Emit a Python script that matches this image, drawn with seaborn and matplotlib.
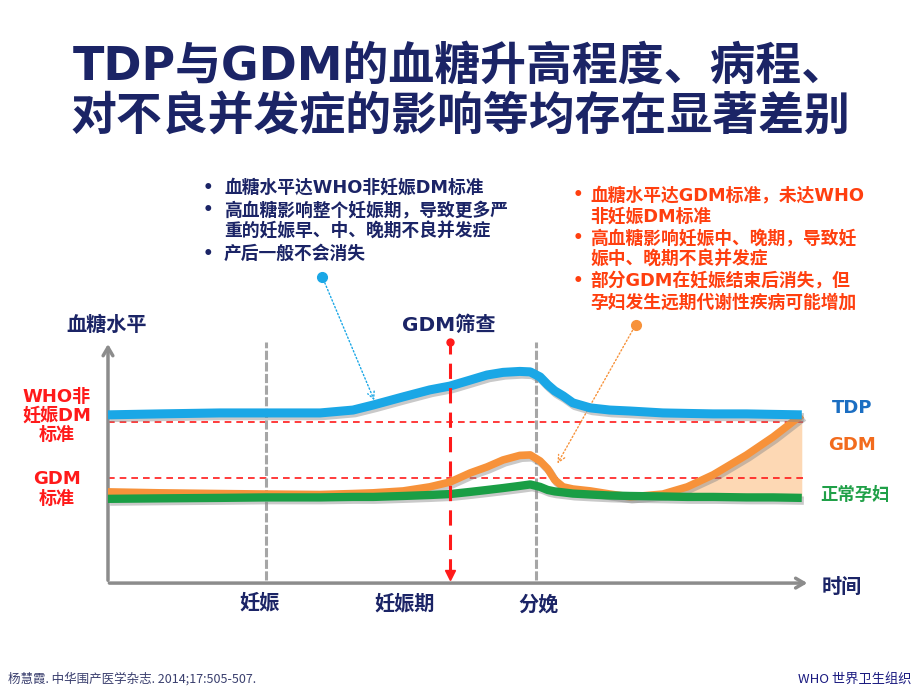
import numpy as np
import pandas as pd
import matplotlib
matplotlib.use('Agg')
import matplotlib.pyplot as plt
import matplotlib.patheffects as pe
import seaborn as sns

# time axis (arbitrary units, 0 = start, 100 = end of arrow)
t = [0.0, 7.4, 16.0, 22.6, 30.4, 35.1, 38.0, 42.3, 46.1, 49.0, 51.9, 54.3, 56.6, 59.0,
     60.5, 61.9, 63.0, 64.0, 65.2, 66.6, 69.1, 71.9, 74.8, 79.5, 83.0, 86.7, 91.5, 95.3, 99.4]
# blood glucose level (arbitrary units)
tdp = [68.8, 69.2, 69.6, 69.6, 69.6, 70.8, 72.9, 76.3, 79.2, 80.8, 83.3, 85.4, 86.5, 86.9,
       86.7, 84.6, 81.3, 78.8, 76.7, 73.8, 71.7, 70.8, 70.4, 69.6, 69.4, 69.2, 69.2, 69.0, 68.8]
gdm = [36.7, 36.3, 36.0, 35.8, 35.6, 36.0, 36.3, 37.1, 38.8, 40.8, 44.6, 47.1, 50.0, 51.9,
       52.1, 49.6, 46.3, 41.7, 38.8, 37.9, 37.1, 35.8, 34.6, 35.8, 38.8, 43.8, 52.1, 59.6, 68.8]
normal = [33.8, 34.0, 34.2, 34.4, 34.4, 34.6, 34.6, 35.0, 35.4, 35.8, 36.7, 37.5, 38.3, 39.2,
          39.8, 38.8, 37.5, 36.9, 36.5, 36.0, 35.6, 35.2, 35.0, 34.8, 34.6, 34.6, 34.4, 34.4, 34.2]

who_level = 65.8      # WHO non-pregnancy DM standard
gdm_level = 42.5      # GDM standard
t_preg = 22.6         # 妊娠
t_screen = 49.0       # GDM筛查
t_birth = 61.3        # 分娩

title_lines = ['TDP与GDM的血糖升高程度、病程、', '对不良并发症的影响等均存在显著差别']
blue_notes = ['血糖水平达WHO非妊娠DM标准', '高血糖影响整个妊娠期，导致更多严',
              '重的妊娠早、中、晚期不良并发症', '产后一般不会消失']
blue_bullets = [True, True, False, True]
red_notes = ['血糖水平达GDM标准，未达WHO', '非妊娠DM标准', '高血糖影响妊娠中、晚期，导致妊',
             '娠中、晚期不良并发症', '部分GDM在妊娠结束后消失，但', '孕妇发生远期代谢性疾病可能增加']
red_bullets = [True, False, True, False, True, False]

navy = '#1B2466'
c_tdp = '#1AA7E6'
c_gdm = '#F7923A'
c_norm = '#1A9E45'
c_red = '#FF1A1A'
c_note = '#FF3F0F'

sns.set_style('white')
plt.rcParams['font.family'] = ['DejaVu Sans', 'Noto Sans CJK SC']
plt.rcParams['font.weight'] = 'bold'

fig = plt.figure(figsize=(9.2, 6.9), dpi=100)
ax = fig.add_axes([0.106, 0.1386, 0.8004, 0.3826])
ax.set_xlim(-1.5, 104)
ax.set_ylim(-6, 104)
ax.axis('off')

df = pd.DataFrame({'t': t, 'TDP': tdp, 'GDM': gdm, 'normal': normal})

# shaded area between GDM and normal after delivery
late = df['t'] >= 72
ax.fill_between(df['t'][late], df['normal'][late], df['GDM'][late],
                where=(df['GDM'][late] >= df['normal'][late]), interpolate=True,
                color='#FDD8B4', lw=0, zorder=1)

# thresholds
for lvl in [who_level, gdm_level]:
    ax.plot([0, 100], [lvl, lvl], color=c_red, lw=1.2, ls=(0, (4, 3)), zorder=2)

# vertical markers
for tv in [t_preg, t_birth]:
    ax.plot([tv, tv], [0, 99], color='#A6A6A6', lw=2.2, ls=(0, (3, 0.8)), zorder=2)

shadow = [pe.SimpleLineShadow(offset=(1.5, -2), shadow_color='#888888', alpha=0.45), pe.Normal()]
for col, c, lw in [('GDM', c_gdm, 5.5), ('normal', c_norm, 6), ('TDP', c_tdp, 6.5)]:
    sns.lineplot(data=df, x='t', y=col, ax=ax, color=c, linewidth=lw, sort=False,
                 solid_capstyle='butt', path_effects=shadow, zorder=4)
ax.set_xlabel('')
ax.set_ylabel('')

# axes arrows
ax.annotate('', xy=(100.6, -1.3), xytext=(-0.2, -1.3),
            arrowprops=dict(arrowstyle='->,head_length=0.6,head_width=0.35', color='#8C8C8C', lw=2.5))
ax.annotate('', xy=(0, 99.5), xytext=(0, -1.3),
            arrowprops=dict(arrowstyle='->,head_length=0.6,head_width=0.35', color='#8C8C8C', lw=2.5))

# GDM screening arrow
ax.plot([t_screen, t_screen], [2.5, 99], color=c_red, lw=2.2, ls=(0, (5, 3)), zorder=5)
ax.plot([t_screen], [99], marker='o', ms=5, color=c_red, zorder=5)
ax.plot([t_screen], [2.2], marker='v', ms=7, color=c_red, zorder=5)

# leader lines
ax.annotate('', xy=(38.3, 73.8), xytext=(30.7, 126.3), annotation_clip=False,
            arrowprops=dict(arrowstyle='->,head_length=0.5,head_width=0.25', color=c_tdp, lw=1, ls=':'))
ax.plot([30.7], [126.3], marker='o', ms=7, color=c_tdp, clip_on=False)
ax.annotate('', xy=(64.2, 47.5), xytext=(75.6, 106.3), annotation_clip=False,
            arrowprops=dict(arrowstyle='->,head_length=0.5,head_width=0.25', color=c_gdm, lw=1, ls=':'))
ax.plot([75.6], [106.3], marker='o', ms=7, color=c_gdm, clip_on=False)

W, H = 920, 690
def ft(x, y, s, **kw):
    fig.text(x / W, 1 - y / H, s, **kw)

# title
ft(460, 67, title_lines[0], ha='center', va='center', fontsize=33, color=navy)
ft(460, 118, title_lines[1], ha='center', va='center', fontsize=33, color=navy)

# note blocks
for i, (s, b) in enumerate(zip(blue_notes, blue_bullets)):
    y = 188 + i * 22
    if b:
        ft(203, y, '•', ha='left', va='center', fontsize=12, color=navy)
    ft(224, y, s, ha='left', va='center', fontsize=12.8, color=navy)
for i, (s, b) in enumerate(zip(red_notes, red_bullets)):
    y = 195 + i * 21.5
    if b:
        ft(573, y, '•', ha='left', va='center', fontsize=12, color=c_note)
    ft(590, y, s, ha='left', va='center', fontsize=12.8, color=c_note)

# axis texts
ft(107, 325, '血糖水平', ha='center', va='center', fontsize=14.5, color=navy)
ft(449, 325, 'GDM筛查', ha='center', va='center', fontsize=14.5, color=navy)
ft(842, 587, '时间', ha='center', va='center', fontsize=14.5, color=navy)
ft(260, 603, '妊娠', ha='center', va='center', fontsize=14.5, color=navy)
ft(405, 604, '妊娠期', ha='center', va='center', fontsize=14.5, color=navy)
ft(538, 605, '分娩', ha='center', va='center', fontsize=14.5, color=navy)

# threshold labels
ft(57, 416, 'WHO非\n妊娠DM\n标准', ha='center', va='center', fontsize=13,
   color=c_red, linespacing=1.1)
ft(57, 489, 'GDM\n标准', ha='center', va='center', fontsize=13,
   color=c_red, linespacing=1.1)

# series labels
ft(852, 408, 'TDP', ha='center', va='center', fontsize=13, color='#1B6EC2')
ft(852, 445, 'GDM', ha='center', va='center', fontsize=13, color='#F26B1D')
ft(855, 495, '正常孕妇', ha='center', va='center', fontsize=12.5, color='#20A048')

# footer
ft(8, 679, '杨慧霞. 中华围产医学杂志. 2014;17:505-507.', ha='left', va='center',
   fontsize=9, color='#3A3F6E', fontweight='normal', family=['Noto Sans CJK SC'])
ft(912, 679, 'WHO 世界卫生组织', ha='right', va='center', fontsize=9.5,
   color='#1A1A80', fontweight='normal', family=['Noto Sans CJK SC'])

fig.savefig('out.png', dpi=100, facecolor='white')
